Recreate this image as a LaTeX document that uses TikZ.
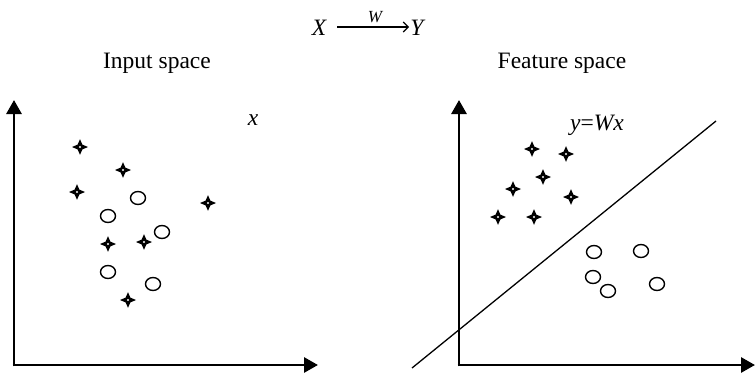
\documentclass[tikz,border=0pt]{standalone}
\usepackage{fontspec}
\setmainfont{Liberation Serif}
\usetikzlibrary{arrows.meta}
\begin{document}
\begin{tikzpicture}[x=1pt,y=-1pt,
  lbl/.style={font=\fontsize{23.5}{28}\selectfont, inner sep=0pt, anchor=base},
  var/.style={font=\fontsize{23.5}{28}\selectfont\itshape, inner sep=0pt, anchor=base},
  small/.style={font=\fontsize{17}{20}\selectfont\itshape, inner sep=0pt, anchor=base},
  axis/.style={line width=2.8pt, -{Triangle[length=14pt,width=15pt]}},
  ring/.style={draw, line width=1.4pt},
  sep/.style={line width=1.3pt},
  sparkle/.pic={\fill (-8,0)--(-2.4,-2.4)--(0,-7.8)--(2.4,-2.4)--(8,0)--(2.4,2.4)--(0,7.8)--(-2.4,2.4)--cycle;
                \fill[white] (0,0) circle (1.1pt);}
]
\useasboundingbox (0,0) rectangle (755,375);

% top formula
\node[var] (X) at (319,35) {X};
\node[var] (Y) at (417,35) {Y};
\node[small] (W) at (375,22) {W};
\coordinate (a1) at (337,27);
\coordinate (a2) at (409,27);
\draw[line width=1.1pt, -{Straight Barb[length=5pt,width=10pt]}] (a1) -- (a2);

% titles
\node[lbl] (t1) at (157,68) {Input space};
\node[lbl] (t2) at (562,68) {Feature space};

% left axes
\coordinate (L0) at (14,365);
\draw[axis] (14,366.4) -- (14,100);
\draw[axis] (12.6,365) -- (318,365);
\node[var] (xl) at (253,125) {x};

\foreach \p in {(80,147),(123,170),(77,192),(208,203),(108,244),(144,242),(128,300)}
  \pic at \p {sparkle};
\foreach \p in {(138,198),(108,216),(162,232),(108,272),(153,284)}
  \draw[ring] \p ellipse [x radius=7.5pt, y radius=6.5pt];

% right axes
\draw[axis] (459,366.4) -- (459,100);
\draw[axis] (457.6,365) -- (755,365);
\coordinate (s1) at (412,368);
\coordinate (s2) at (716,121);
\draw[sep] (s1) -- (s2);
\node[lbl] (yw) at (597,130) {\itshape y\upshape=\itshape Wx};

\foreach \p in {(532,149),(566,154),(543,177),(513,189),(571,197),(498,217),(534,217)}
  \pic at \p {sparkle};
\foreach \p in {(594,252),(641,251),(593,277),(608,291),(657,284)}
  \draw[ring] \p ellipse [x radius=7.5pt, y radius=6.5pt];
\end{tikzpicture}
\end{document}
